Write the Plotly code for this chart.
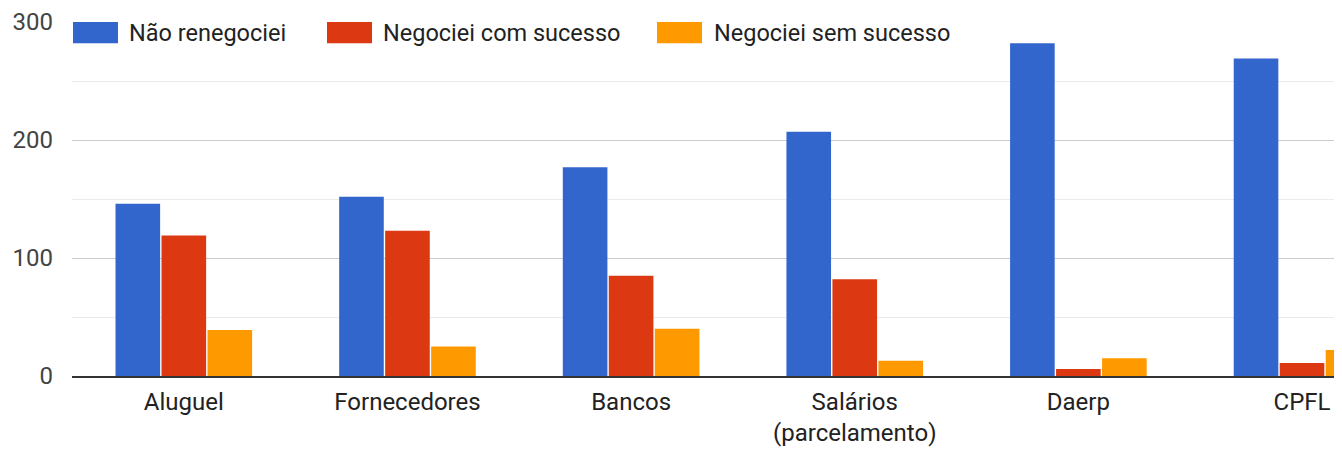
import plotly.graph_objects as go

categories = ["Aluguel", "Fornecedores", "Bancos", "Salários<br>(parcelamento)", "Daerp", "CPFL"]
series_names = ["Não renegociei", "Negociei com sucesso", "Negociei sem sucesso"]
nao_renegociei = [146, 152, 177, 207, 282, 269]
negociei_com_sucesso = [119, 123, 85, 82, 6, 11]
negociei_sem_sucesso = [39, 25, 40, 13, 15, 22]
y_ticks = [0, 100, 200, 300]

colors = ["#3366cc", "#dc3912", "#ff9900"]
series_values = [nao_renegociei, negociei_com_sucesso, negociei_sem_sucesso]

# page has an 8px body margin; figure is sized/offset to compensate
OFF = 8
W, H = 1342 - OFF, 450 - OFF
ML, MR, MT, MB = 72 - OFF, 8, 22 - OFF, 74
PW, PH = W - ML - MR, H - MT - MB

fig = go.Figure()
for name, vals, col in zip(series_names, series_values, colors):
    fig.add_trace(go.Bar(x=categories, y=vals, name=name, marker=dict(color=col, line=dict(width=0))))

def px_x(p):
    return (p - OFF - ML) / PW

def px_y(p):
    return (H - MB - (p - OFF)) / PH

# custom legend (swatches + text)
legend_swatch_x = [73, 327, 657]
legend_text_x = [129, 383, 714]
shapes = []
annotations = []
for i, (name, col) in enumerate(zip(series_names, colors)):
    shapes.append(dict(type="rect", xref="paper", yref="paper",
                       x0=px_x(legend_swatch_x[i]), x1=px_x(legend_swatch_x[i] + 45),
                       y0=px_y(43.3), y1=px_y(22.0),
                       fillcolor=col, line=dict(width=0), layer="above"))
    annotations.append(dict(xref="paper", yref="paper", x=px_x(legend_text_x[i] - 2), y=px_y(33),
                            text=name, showarrow=False, xanchor="left", yanchor="middle",
                            font=dict(family="Roboto", size=23.5, color="#222222")))

fig.update_layout(
    width=W, height=H,
    margin=dict(l=ML, r=MR, t=MT, b=MB, pad=0, autoexpand=False),
    paper_bgcolor="white", plot_bgcolor="white",
    barmode="group", bargap=0.383, bargroupgap=0.03,
    showlegend=False,
    font=dict(family="Roboto", size=24, color="#444444"),
    shapes=shapes, annotations=annotations,
    xaxis=dict(range=[-0.5, 5.143], showgrid=False, zeroline=False, automargin=False,
               showline=True, linecolor="#333333", linewidth=2,
               ticks="", ticklabelstandoff=3,
               tickfont=dict(size=24, color="#222222"), fixedrange=True),
    yaxis=dict(range=[0, 300], tickvals=y_ticks, showgrid=True, gridcolor="#cccccc", gridwidth=1.3,
               zeroline=False, showline=False, ticks="", ticklabelstandoff=18, automargin=False,
               tickfont=dict(size=24, color="#444444"),
               minor=dict(dtick=50, showgrid=True, gridcolor="#ebebeb", gridwidth=1.3)),
)

fig.write_html("out.html")
